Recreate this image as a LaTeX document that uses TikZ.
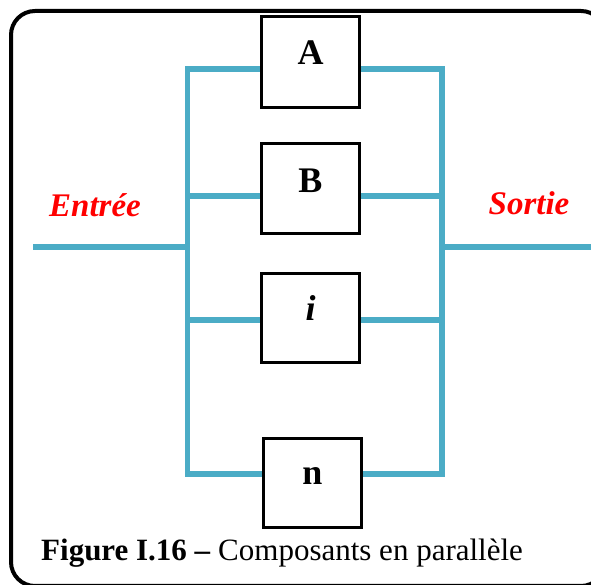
\documentclass[tikz,border=0pt]{standalone}
\usepackage{fontspec}
\setmainfont{Liberation Serif}
\definecolor{wirecol}{HTML}{4BACC6}
\definecolor{labelred}{HTML}{FF0000}
\begin{document}
\begin{tikzpicture}[x=1pt,y=1pt,
  wire/.style={draw=wirecol, line width=5.5pt},
  block/.style={draw=black, line width=2pt, fill=white,
    minimum width=97pt, minimum height=88pt, inner sep=0pt},
  blocktext/.style={font=\fontsize{36}{42}\selectfont\bfseries},
  iolabel/.style={text=labelred, font=\fontsize{33}{38}\selectfont\bfseries\itshape},
  frame/.style={line width=4pt, rounded corners=24pt}]
\useasboundingbox (0,0) rectangle (591,585);

% outer frame, partly cut by the page edge
\begin{scope}
  \clip (0,0) rectangle (591,585);
  \draw[frame] (11,-1) rectangle (605,574);
\end{scope}

% bus coordinates
\coordinate (in)  at (33,338);
\coordinate (out) at (591,338);
\coordinate (lin) at (187.5,338);
\coordinate (rin) at (442,338);
\coordinate (lA) at (187.5,516);  \coordinate (rA) at (442,516);
\coordinate (lB) at (187.5,389);  \coordinate (rB) at (442,389);
\coordinate (li) at (187.5,265);  \coordinate (ri) at (442,265);
\coordinate (ln) at (187.5,111);  \coordinate (rn) at (442,111);

% components
\node[block, minimum height=90pt] (A) at (310.5,523) {};
\node[block, minimum height=89pt] (B) at (310.5,396.5) {};
\node[block] (I) at (310.5,267) {};
\node[block] (N) at (312.5,102) {};

% wiring
\draw[wire] (A.west |- lA) -- (lA) -- (ln) -- (N.west |- ln);
\draw[wire] (A.east |- rA) -- (rA) -- (rn) -- (N.east |- rn);
\draw[wire] (lB) -- (B.west |- lB);
\draw[wire] (B.east |- rB) -- (rB);
\draw[wire] (li) -- (I.west |- li);
\draw[wire] (I.east |- ri) -- (ri);
\draw[wire] (in) -- (lin);
\draw[wire] (rin) -- (out);

% redraw boxes on top of the wires
\foreach \b in {A,B,I,N} \draw[line width=2pt] (\b.south west) rectangle (\b.north east);

% component letters
\node[blocktext] (tA) at ([yshift=9pt]A.center) {A};
\node[blocktext] (tB) at ([yshift=8pt]B.center) {B};
\node[blocktext] (tI) at ([yshift=10pt]I.center) {\itshape i};
\node[blocktext] (tN) at ([yshift=7pt]N.center) {n};

% input / output labels
\node[iolabel] (entree) at (95,380) {Entrée};
\node[iolabel] (sortie) at (529,382) {Sortie};

% caption
\node[anchor=base west, inner sep=0pt, font=\fontsize{31}{36}\selectfont] (caption) at (41,24)
  {\textbf{Figure I.16 –} Composants en parallèle};
\end{tikzpicture}
\end{document}
